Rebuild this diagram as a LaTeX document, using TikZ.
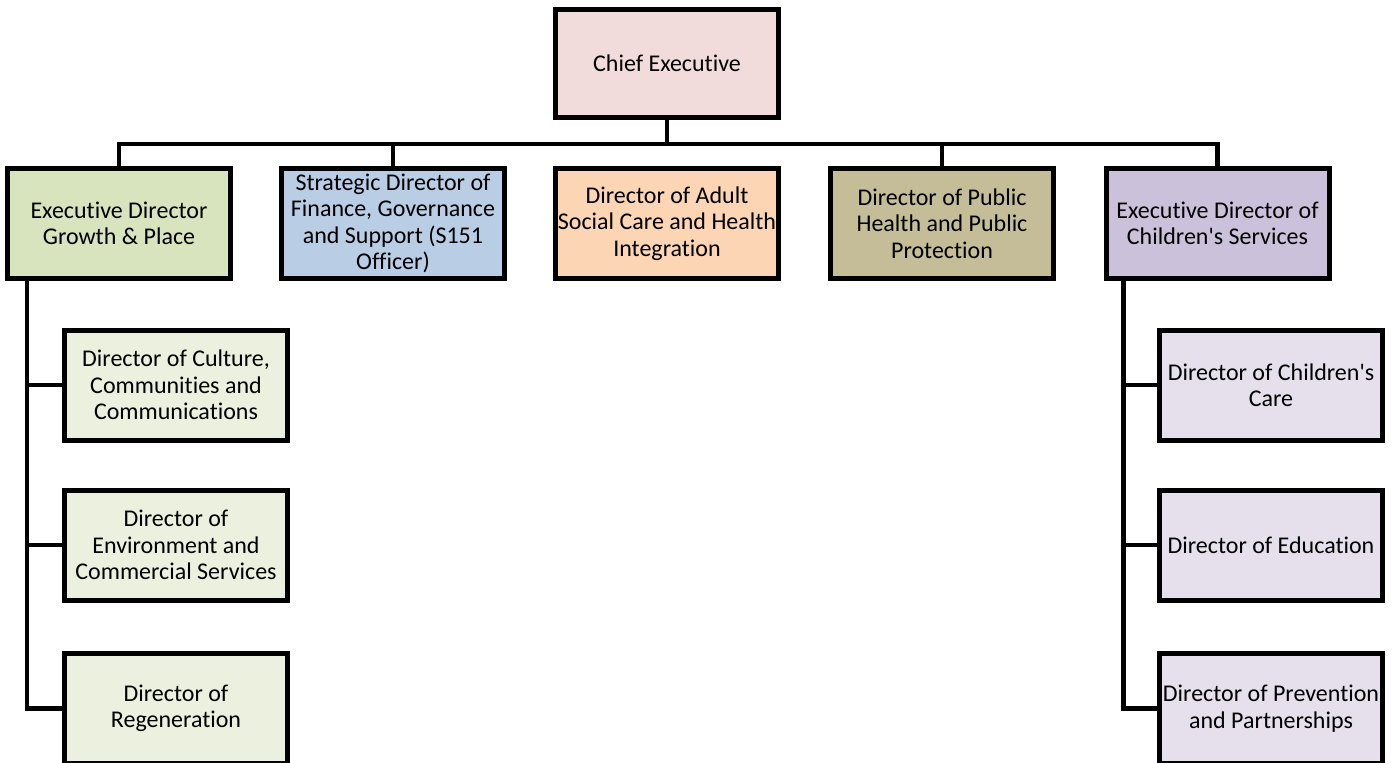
\documentclass[tikz,border=0pt]{standalone}
\usepackage{fontspec}
\setmainfont{Carlito}[Ligatures={TeX,NoCommon}]
\usepackage{xcolor}
\usepackage{tikz}
\usetikzlibrary{positioning,calc}
\definecolor{chiefpink}{HTML}{F2DCDB}
\definecolor{growthgreen}{HTML}{D7E4BD}
\definecolor{financeblue}{HTML}{B9CDE5}
\definecolor{adultorange}{HTML}{FCD5B5}
\definecolor{publicolive}{HTML}{C4BD97}
\definecolor{childlilac}{HTML}{CCC1DA}
\definecolor{subgreen}{HTML}{EBF1DE}
\definecolor{sublilac}{HTML}{E5E0EC}

\begin{document}
\begin{tikzpicture}[
  x=0.5pt, y=-0.5pt,
  post/.style={draw, rectangle, line width=2.5pt, minimum width=111.5pt, minimum height=55pt, inner sep=0pt, align=center, font=\fontsize{12}{13.2}\selectfont},
  conn/.style={line width=2.1pt}
]
  \useasboundingbox (0,0) rectangle (1396,762);
  \clip (0,0) rectangle (1396,762);

  \node[post, fill=chiefpink, minimum height=54pt] (chief) at (667,63.5) {Chief Executive};

  \node[post, fill=growthgreen] (growth)   at (119,223.5)  {Executive Director\\Growth \& Place};
  \node[post, fill=financeblue] (finance)  at (393,223.5)  {Strategic Director of\\Finance, Governance\\and Support (S151\\Officer)};
  \node[post, fill=adultorange] (adult)    at (667,223.5)  {Director of Adult\\Social Care and Health\\Integration};
  \node[post, fill=publicolive] (public)   at (942,223.5)  {Director of Public\\Health and Public\\Protection};
  \node[post, fill=childlilac]  (children) at (1217.5,223.5) {Executive Director of\\Children\textquotesingle s Services};

  \node[post, fill=subgreen] (culture) at (176,385)   {Director of Culture,\\Communities and\\Communications};
  \node[post, fill=subgreen] (environ) at (176,545)   {Director of\\Environment and\\Commercial Services};
  \node[post, fill=subgreen] (regen)   at (176,708.5) {Director of\\Regeneration};

  \node[post, fill=sublilac] (care)      at (1271,385)   {Director of Children\textquotesingle s\\Care};
  \node[post, fill=sublilac] (education) at (1271,545)   {Director of Education};
  \node[post, fill=sublilac] (prevent)   at (1271,708.5) {Director of Prevention\\and Partnerships};

  % top level bus
  \coordinate (bus) at (667,144);
  \draw[conn] (chief.south) -- (bus);
  \draw[conn] (growth.north) |- (bus) -| (children.north);
  \draw[conn] (finance.north) -- (finance.north |- bus);
  \draw[conn] (public.north) -- (public.north |- bus);

  % growth & place branch
  \coordinate (spineG) at ([xshift=11pt]growth.south west);
  \draw[conn] (spineG) |- (regen.west);
  \draw[conn] (spineG |- culture.west) -- (culture.west);
  \draw[conn] (spineG |- environ.west) -- (environ.west);

  % children's services branch
  \coordinate (spineC) at ([xshift=10pt]children.south west);
  \draw[conn] (spineC) |- (prevent.west);
  \draw[conn] (spineC |- care.west) -- (care.west);
  \draw[conn] (spineC |- education.west) -- (education.west);
\end{tikzpicture}
\end{document}
